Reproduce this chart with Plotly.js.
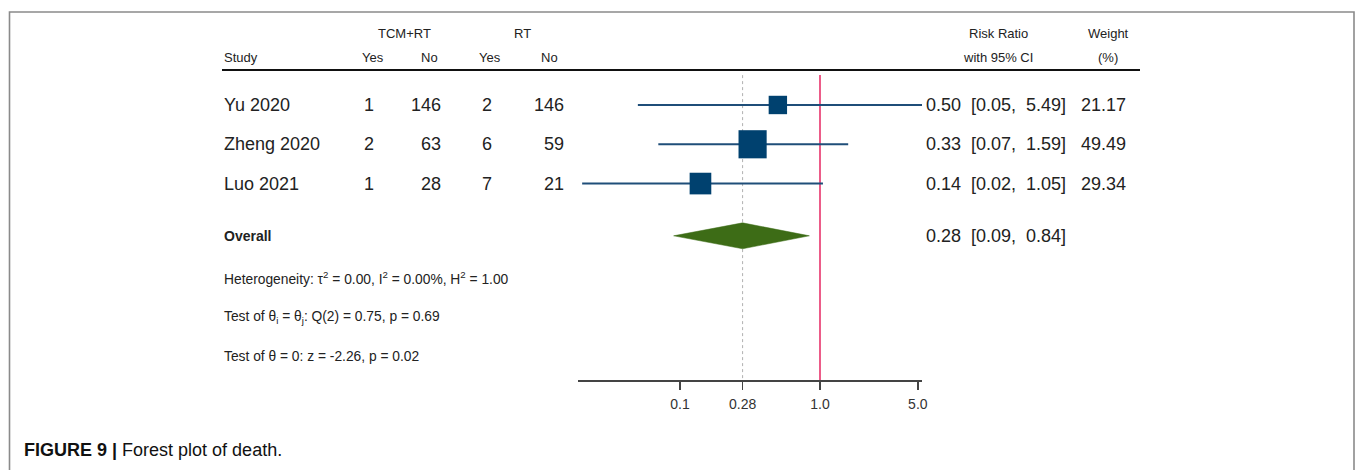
<!DOCTYPE html>
<html>
<head>
<meta charset="utf-8">
<script src="https://cdn.plot.ly/plotly-3.0.1.min.js"></script>
<style>html,body{margin:0;padding:0;background:#fff;}#chart{width:1357px;height:470px;}</style>
</head>
<body>
<div id="chart"></div>
<script>
// ---- data ----
const studies = ["Yu 2020", "Zheng 2020", "Luo 2021"];
const tcmYes = [1, 2, 1];
const tcmNo = [146, 63, 28];
const rtYes = [2, 6, 7];
const rtNo = [146, 59, 21];
const rr = [0.50, 0.33, 0.14];
const ciLow = [0.05, 0.07, 0.02];
const ciHigh = [5.49, 1.59, 1.05];
const weights = [21.17, 49.49, 29.34];
const overall = {rr: 0.28, low: 0.09, high: 0.84};
const statLines = [
  "Heterogeneity: τ<sup>2</sup> = 0.00, I<sup>2</sup> = 0.00%, H<sup>2</sup> = 1.00",
  "Test of θ<sub>i</sub> = θ<sub>j</sub>: Q(2) = 0.75, p = 0.69",
  "Test of θ = 0: z = -2.26, p = 0.02"
];
const tickVals = [0.1, 0.28, 1, 5];
const tickText = ["0.1", "0.28", "1.0", "5.0"];

// ---- layout helpers ----
const W = 1357, H = 470;
const FONT = "Liberation Sans, Arial, sans-serif";
const px = p => p / W;
const studyRows = [1, 2, 3];
const overallRow = 4.33;
const statRows = [5.40, 6.42, 7.41];
const topRow = 0.24, axisRow = 8.0;
const NB = "\u00a0";

function fmtCI(e, l, h) {
  return e.toFixed(2) + NB + NB + "[" + l.toFixed(2) + "," + NB + NB + h.toFixed(2) + "]";
}

const traces = [];
const cx = [], cy = [];
studies.forEach((s, i) => { cx.push(ciLow[i], ciHigh[i], null); cy.push(studyRows[i], studyRows[i], null); });
traces.push({x: [overall.rr, overall.rr], y: [topRow, axisRow], mode: "lines", line: {color: "#b0b0b0", width: 1, dash: "dot"}, hoverinfo: "skip", showlegend: false});
traces.push({x: [1, 1], y: [topRow, axisRow], mode: "lines", line: {color: "#e8336b", width: 1.6}, hoverinfo: "skip", showlegend: false});
traces.push({x: cx, y: cy, mode: "lines", line: {color: "#1f4e79", width: 2}, hoverinfo: "skip", showlegend: false, connectgaps: false});
traces.push({x: rr, y: studyRows, mode: "markers", marker: {symbol: "square", size: weights.map(w => 4 * Math.sqrt(w)), color: "#00416f", opacity: 1, line: {width: 0}}, hoverinfo: "skip", showlegend: false});
const hh = 0.33;
traces.push({x: [overall.low, overall.rr, overall.high, overall.rr, overall.low],
  y: [overallRow, overallRow - hh, overallRow, overallRow + hh, overallRow],
  mode: "lines", fill: "toself", fillcolor: "#3d6c16", line: {color: "#3d6c16", width: 0.5}, hoverinfo: "skip", showlegend: false});

const ann = [];
function T(text, x, y, anchor, size, opts) {
  const dx = anchor === "left" ? -3 : (anchor === "right" ? 3 : 0);
  ann.push(Object.assign({text: text, x: px(x + dx), xref: "paper", y: y, yref: "y", xanchor: anchor, yanchor: "middle",
    showarrow: false, font: {family: FONT, size: size, color: "#222"}}, opts || {}));
}
// headers
T("TCM+RT", 404, -0.83, "center", 13);
T("RT", 522, -0.83, "center", 13);
T("Study", 225, -0.22, "left", 13);
T("Yes", 373, -0.22, "center", 13);
T("No", 429, -0.22, "center", 13);
T("Yes", 490, -0.22, "center", 13);
T("No", 549, -0.22, "center", 13);
T("Risk Ratio", 998, -0.83, "center", 13);
T("with 95% CI", 998, -0.22, "center", 13);
T("Weight", 1108, -0.83, "center", 13);
T("(%)", 1108, -0.22, "center", 13);
// rows
studies.forEach((s, i) => {
  const y = studyRows[i];
  T(s, 225, y, "left", 18);
  T(String(tcmYes[i]), 373, y, "right", 18);
  T(String(tcmNo[i]), 440, y, "right", 18);
  T(String(rtYes[i]), 491, y, "right", 18);
  T(String(rtNo[i]), 563, y, "right", 18);
  T(fmtCI(rr[i], ciLow[i], ciHigh[i]), 927, y, "left", 18);
  T(weights[i].toFixed(2), 1082, y, "left", 18);
});
T("<b>Overall</b>", 225, overallRow, "left", 14);
T(fmtCI(overall.rr, overall.low, overall.high), 927, overallRow, "left", 18);
statLines.forEach((s, i) => T(s, 225, statRows[i], "left", 13.8));
// caption
ann.push({text: "<b>FIGURE 9 |</b> Forest plot of death.", x: px(22), xref: "paper", y: 1 - 450 / H, yref: "paper",
  xanchor: "left", yanchor: "middle", showarrow: false, font: {family: FONT, size: 18, color: "#111"}});

const shapes = [
  {type: "line", xref: "paper", yref: "y", x0: px(222), x1: px(1140), y0: 0.11, y1: 0.11, line: {color: "#111", width: 2}},
  {type: "path", xref: "paper", yref: "paper",
   path: "M " + px(9.5) + " -0.1 L " + px(9.5) + " " + (1 - 12 / H) + " L " + px(1354) + " " + (1 - 12 / H) + " L " + px(1354) + " -0.1",
   line: {color: "#8a8a8a", width: 1.6}}
];

const layout = {
  width: W, height: H,
  margin: {l: 0, r: 0, t: 0, b: 0, pad: 0},
  paper_bgcolor: "#fff", plot_bgcolor: "rgba(0,0,0,0)",
  showlegend: false,
  xaxis: {type: "log", domain: [578 / W, 922 / W], range: [-1.7286, 0.7286],
    showline: true, linecolor: "#444", linewidth: 1.5, ticks: "outside", ticklen: 8, tickwidth: 1.5, tickcolor: "#444",
    tickvals: tickVals, ticktext: tickText, showgrid: false, zeroline: false, ticklabelstandoff: 3,
    tickfont: {family: FONT, size: 14, color: "#333"}, fixedrange: true},
  yaxis: {domain: [90 / H, 1], range: [axisRow, -1.672], visible: false, fixedrange: true},
  annotations: ann,
  shapes: shapes
};

Plotly.newPlot("chart", traces, layout, {displayModeBar: false, staticPlot: true});
</script>
</body>
</html>
